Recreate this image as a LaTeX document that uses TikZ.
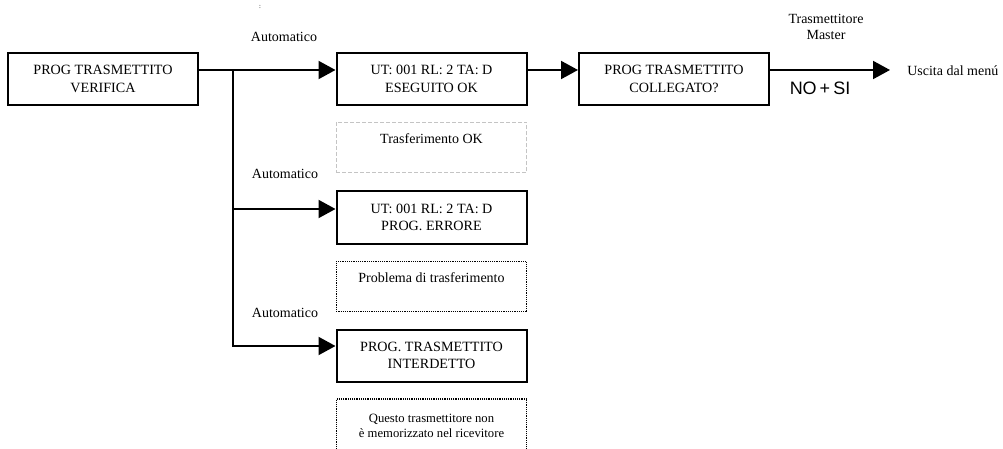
\documentclass[tikz,border=0pt]{standalone}
\usepackage{fontspec}
\setmainfont{Liberation Serif}
\setsansfont{Liberation Sans}
\usetikzlibrary{arrows.meta,positioning}
\definecolor{dashgray}{HTML}{C4C4C4}

\tikzset{
  menubox/.style={draw, line width=1.5pt, minimum width=142.5pt, minimum height=39pt, inner sep=0pt, align=center, font=\fontsize{10.6}{13}\selectfont},
  notebox/.style={draw, line width=0.9pt, dash pattern=on 0.9pt off 0.75pt, minimum width=143pt, minimum height=38pt, inner sep=0pt},
  notetext/.style={inner sep=0pt, align=center, font=\fontsize{10.5}{13}\selectfont},
  lbl/.style={inner sep=0pt, align=center, font=\fontsize{10.5}{12.5}\selectfont},
  flow/.style={line width=1.5pt, -{Triangle[length=12.75pt,width=13.5pt]}}
}

\begin{document}
\begin{tikzpicture}[x=0.75pt, y=-0.75pt]
\useasboundingbox (0,0) rectangle (1003,449);
\clip (0,0) rectangle (1003,449);

% menu boxes
\node[menubox] (verif) at (103,79) {PROG TRASMETTITO\\VERIFICA};
\node[menubox] (ok1) at (431.5,79) {UT: 001 RL: 2 TA: D\\ESEGUITO OK};
\node[menubox] (coll) at (674,79) {PROG TRASMETTITO\\COLLEGATO?};
\node[menubox] (err) at (431.5,217.5) {UT: 001 RL: 2 TA: D\\PROG. ERRORE};
\node[menubox] (interd) at (431.5,355.5) {PROG. TRASMETTITO\\INTERDETTO};

% note boxes
\node[notebox, draw=dashgray, line width=0.75pt, dash pattern=on 3pt off 1.5pt, minimum height=38pt] (nok) at (431.5,147.5) {};
\node[notetext, below=9pt of nok.north] (tok) {Trasferimento OK};
\node[notebox] (nprob) at (431.5,286.5) {};
\node[notetext, below=9pt of nprob.north] (tprob) {Problema di trasferimento};
\node[notebox, minimum height=60pt] (nnon) at (431.5,439) {};
\node[notetext, font=\fontsize{9.5}{11.25}\selectfont, below=11.5pt of nnon.north] (tnon) {Questo trasmettitore non\\è memorizzato nel ricevitore};

% labels
\node[font=\fontsize{5}{6}\selectfont] (mark) at (260,7) {:};
\node[lbl] (auto1) at (284,37) {Automatico};
\node[lbl] (auto2) at (285,174) {Automatico};
\node[lbl] (auto3) at (285,313) {Automatico};
\node[lbl] (master) at (826,27) {Trasmettitore\\Master};
\node[inner sep=0pt, font=\sffamily\fontsize{13.5}{15}\selectfont] (nosi) at (820,88) {NO\,+\,SI};
\node[lbl, anchor=west, inner xsep=12.75pt] (usc) at (890,71) {Uscita dal menú};

% connectors
\coordinate (j1) at (233,70);
\coordinate (j2) at (233,209);
\coordinate (j3) at (233,346);
\draw[flow] (verif.east |- j1) -- (ok1.west |- j1);
\draw[flow] (j1) |- (err.west |- j2);
\draw[flow] (j1) |- (interd.west |- j3);
\draw[flow] (ok1.east |- j1) -- (coll.west |- j1);
\draw[flow] (coll.east |- j1) -- (usc.west |- j1);
\end{tikzpicture}
\end{document}
